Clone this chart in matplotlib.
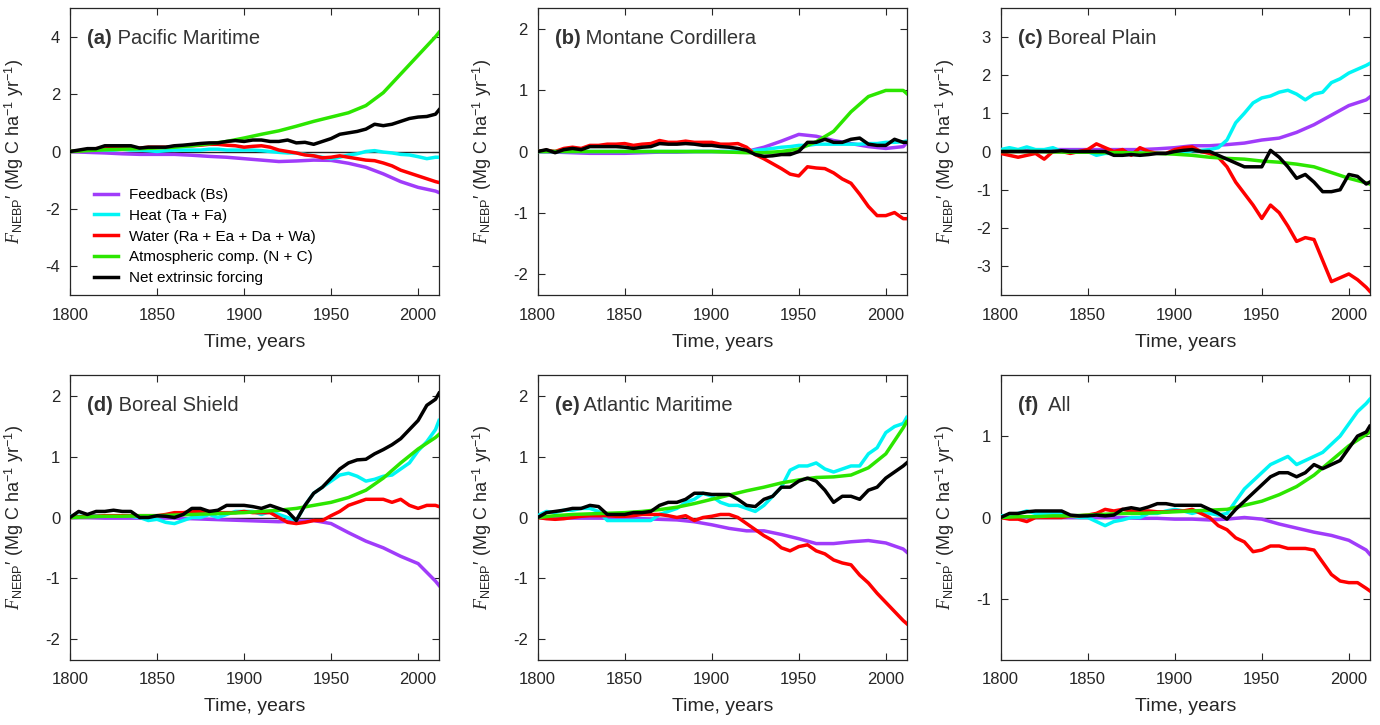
import numpy as np
import matplotlib
matplotlib.use("Agg")
import matplotlib.pyplot as plt

plt.rcParams["font.family"] = ["Liberation Sans", "DejaVu Sans"]
plt.rcParams["mathtext.fontset"] = "custom"
plt.rcParams["mathtext.rm"] = "Liberation Sans"
plt.rcParams["mathtext.it"] = "Liberation Serif:italic"
plt.rcParams["axes.unicode_minus"] = False

###################
# Data (read off) #
###################
# noisy series: every 5 years (+2012); smooth series: every 10 years (+2012)
years5 = list(range(1800, 2011, 5)) + [2012]
years10 = list(range(1800, 2011, 10)) + [2012]

labels = ["Feedback (Bs)", "Heat (Ta + Fa)", "Water (Ra + Ea + Da + Wa)",
          "Atmospheric comp. (N + C)", "Net extrinsic forcing"]
colors = ["#A03CFA", "#00F5F5", "#FF0000", "#2CE600", "#000000"]

titles = ["(a)", "(b)", "(c)", "(d)", "(e)", "(f)"]
names = [" Pacific Maritime", " Montane Cordillera", " Boreal Plain",
         " Boreal Shield", " Atlantic Maritime", "  All"]
ylims = [5.0, 2.35, 3.75, 2.35, 2.35, 1.75]
yticks = [[-4, -2, 0, 2, 4], [-2, -1, 0, 1, 2], [-3, -2, -1, 0, 1, 2, 3],
          [-2, -1, 0, 1, 2], [-2, -1, 0, 1, 2], [-1, 0, 1]]

# (a) Pacific Maritime
a_feedback = [0.0, -0.03, -0.05, -0.08, -0.1, -0.1, -0.1, -0.13, -0.17, -0.2, -0.25, -0.3,
              -0.35, -0.33, -0.3, -0.31, -0.41, -0.55, -0.78, -1.05, -1.25, -1.38, -1.43]
a_heat = [0.0, 0.02, 0.05, 0.05, 0.05, 0.05, 0.08, 0.05, 0.05, 0.03, 0.0, 0.03, 0.05, 0.05,
          0.05, 0.05, 0.08, 0.08, 0.05, 0.05, 0.05, 0.05, 0.03, 0.0, -0.03, -0.05, -0.05,
          -0.1, -0.15, -0.2, -0.25, -0.2, -0.12, -0.08, 0.0, 0.03, -0.02, -0.05, -0.1, -0.12,
          -0.18, -0.25, -0.2, -0.2]
a_water = [0.0, 0.02, 0.05, 0.1, 0.12, 0.12, 0.15, 0.12, 0.12, 0.15, 0.15, 0.15, 0.18, 0.2,
           0.2, 0.22, 0.25, 0.25, 0.22, 0.2, 0.15, 0.18, 0.2, 0.15, 0.05, 0.0, -0.05, -0.12,
           -0.15, -0.22, -0.2, -0.15, -0.2, -0.25, -0.3, -0.32, -0.4, -0.5, -0.65, -0.75,
           -0.85, -0.95, -1.05, -1.08]
a_atm = [0.0, 0.03, 0.06, 0.08, 0.1, 0.12, 0.15, 0.2, 0.27, 0.35, 0.47, 0.6, 0.72, 0.88,
         1.05, 1.2, 1.35, 1.6, 2.05, 2.7, 3.35, 4.0, 4.15]
a_net = [0.0, 0.05, 0.1, 0.1, 0.2, 0.2, 0.2, 0.2, 0.12, 0.15, 0.15, 0.15, 0.2, 0.22, 0.25,
         0.28, 0.3, 0.3, 0.35, 0.38, 0.35, 0.4, 0.4, 0.35, 0.35, 0.4, 0.3, 0.32, 0.25, 0.35,
         0.45, 0.6, 0.65, 0.7, 0.78, 0.95, 0.9, 0.95, 1.05, 1.15, 1.2, 1.22, 1.3, 1.45]

# (b) Montane Cordillera
b_feedback = [0.0, -0.01, -0.02, -0.03, -0.03, -0.03, -0.02, -0.01, -0.01, 0.0, 0.0, 0.0,
              0.0, 0.07, 0.17, 0.28, 0.25, 0.18, 0.13, 0.08, 0.05, 0.08, 0.14]
b_heat = [0.0] * 25 + [0.02, 0.03, 0.05, 0.07, 0.08, 0.1, 0.1, 0.12, 0.12, 0.12, 0.12,
                       0.12, 0.12, 0.13, 0.13, 0.15, 0.15, 0.16, 0.17]
b_water = [0.0, 0.02, 0.0, 0.05, 0.07, 0.05, 0.1, 0.1, 0.12, 0.12, 0.13, 0.1, 0.12, 0.13,
           0.18, 0.15, 0.15, 0.17, 0.15, 0.15, 0.15, 0.12, 0.12, 0.13, 0.07, -0.05, -0.12,
           -0.2, -0.28, -0.37, -0.4, -0.25, -0.27, -0.28, -0.35, -0.45, -0.52, -0.7, -0.9,
           -1.05, -1.05, -1.0, -1.1, -1.1]
b_atm = [0.0, 0.0, 0.0, 0.0, 0.0, 0.0, 0.0, 0.0, 0.0, 0.0, 0.0, -0.01, -0.02, -0.02, 0.0,
         0.04, 0.16, 0.33, 0.65, 0.9, 1.0, 1.0, 0.95]
b_net = [0.0, 0.03, -0.02, 0.03, 0.05, 0.03, 0.08, 0.08, 0.08, 0.08, 0.07, 0.05, 0.07, 0.08,
         0.13, 0.12, 0.12, 0.13, 0.12, 0.1, 0.1, 0.08, 0.07, 0.05, 0.02, -0.05, -0.08,
         -0.07, -0.05, -0.05, 0.0, 0.15, 0.15, 0.2, 0.15, 0.15, 0.2, 0.22, 0.12, 0.1, 0.1,
         0.2, 0.15, 0.15]

# (c) Boreal Plain
c_feedback = [0.0, 0.02, 0.03, 0.05, 0.05, 0.05, 0.05, 0.05, 0.05, 0.07, 0.1, 0.15, 0.15,
              0.18, 0.22, 0.3, 0.35, 0.5, 0.7, 0.95, 1.2, 1.35, 1.42]
c_heat = [0.05, 0.1, 0.05, 0.12, 0.05, 0.05, 0.1, 0.0, 0.0, 0.0, 0.0, -0.1, -0.05, -0.05,
          -0.05, -0.05, -0.05, -0.03, -0.05, -0.05, 0.0, -0.05, 0.02, 0.03, 0.05, 0.1, 0.3,
          0.75, 1.0, 1.27, 1.4, 1.45, 1.55, 1.6, 1.5, 1.35, 1.5, 1.55, 1.8, 1.9, 2.05, 2.15,
          2.25, 2.3]
c_water = [-0.05, -0.1, -0.15, -0.1, -0.05, -0.2, 0.0, 0.0, -0.05, 0.0, 0.05, 0.2, 0.1,
           0.0, 0.05, -0.1, 0.1, 0.0, -0.05, -0.05, 0.05, 0.1, 0.12, 0.0, -0.05, -0.15,
           -0.4, -0.8, -1.1, -1.4, -1.75, -1.4, -1.6, -1.95, -2.35, -2.25, -2.3, -2.85,
           -3.4, -3.3, -3.2, -3.35, -3.55, -3.65]
c_atm = [0.0, 0.0, 0.0, -0.01, -0.02, -0.02, -0.03, -0.03, -0.04, -0.05, -0.07, -0.1,
         -0.15, -0.18, -0.2, -0.25, -0.28, -0.33, -0.4, -0.55, -0.7, -0.82, -0.85]
c_net = [0.0, 0.0, 0.0, 0.0, 0.0, 0.0, 0.0, 0.02, 0.0, 0.0, 0.0, 0.0, 0.0, -0.1, -0.1,
         -0.08, -0.1, -0.08, -0.05, -0.05, 0.0, 0.03, 0.05, 0.0, 0.0, -0.1, -0.2, -0.3,
         -0.4, -0.4, -0.4, 0.03, -0.15, -0.4, -0.7, -0.6, -0.8, -1.05, -1.05, -1.0, -0.6,
         -0.65, -0.85, -0.8]

# (d) Boreal Shield
d_feedback = [0.0, 0.0, -0.01, -0.01, -0.01, -0.01, -0.01, -0.02, -0.03, -0.04, -0.05,
              -0.06, -0.07, -0.06, -0.05, -0.1, -0.25, -0.39, -0.5, -0.64, -0.76, -1.05,
              -1.12]
d_heat = [0.02, 0.02, 0.02, 0.03, 0.02, 0.03, 0.02, 0.02, 0.0, -0.05, -0.03, -0.08, -0.1,
          -0.05, 0.0, 0.0, 0.05, 0.0, 0.05, 0.1, 0.1, 0.1, 0.05, 0.1, 0.05, 0.0, -0.05, 0.2,
          0.4, 0.5, 0.6, 0.7, 0.73, 0.68, 0.6, 0.63, 0.68, 0.7, 0.8, 0.9, 1.1, 1.25, 1.45,
          1.6]
d_water = [0.0, 0.01, 0.02, 0.02, 0.03, 0.03, 0.03, 0.03, 0.03, 0.03, 0.03, 0.05, 0.08,
           0.08, 0.1, 0.1, 0.1, 0.08, 0.08, 0.08, 0.1, 0.08, 0.08, 0.08, 0.0, -0.08, -0.1,
           -0.08, -0.05, -0.05, 0.03, 0.1, 0.2, 0.25, 0.3, 0.3, 0.3, 0.25, 0.3, 0.2, 0.15,
           0.2, 0.2, 0.18]
d_atm = [0.0, 0.01, 0.02, 0.02, 0.03, 0.03, 0.04, 0.05, 0.06, 0.07, 0.08, 0.1, 0.12, 0.15,
         0.2, 0.25, 0.33, 0.45, 0.65, 0.9, 1.13, 1.32, 1.37]
d_net = [0.0, 0.1, 0.05, 0.1, 0.1, 0.12, 0.1, 0.1, 0.0, 0.0, 0.03, 0.02, 0.0, 0.05, 0.15,
         0.15, 0.1, 0.12, 0.2, 0.2, 0.2, 0.18, 0.15, 0.2, 0.15, 0.1, -0.05, 0.2, 0.4, 0.5,
         0.65, 0.8, 0.9, 0.95, 0.96, 1.05, 1.12, 1.2, 1.3, 1.45, 1.6, 1.85, 1.95, 2.05]

# (e) Atlantic Maritime
e_feedback = [0.0, 0.0, -0.01, -0.01, -0.01, -0.02, -0.02, -0.03, -0.04, -0.07, -0.12,
              -0.18, -0.22, -0.22, -0.28, -0.35, -0.43, -0.43, -0.4, -0.38, -0.42, -0.52,
              -0.57]
e_heat = [0.03, 0.1, 0.08, 0.12, 0.12, 0.15, 0.15, 0.1, -0.05, -0.05, -0.05, -0.05, -0.05,
          -0.05, 0.05, 0.1, 0.15, 0.25, 0.3, 0.4, 0.35, 0.25, 0.2, 0.2, 0.15, 0.1, 0.2,
          0.35, 0.5, 0.78, 0.85, 0.85, 0.9, 0.8, 0.75, 0.8, 0.85, 0.85, 1.05, 1.15, 1.4,
          1.5, 1.55, 1.65]
e_water = [0.0, -0.02, -0.03, -0.02, 0.0, 0.02, 0.03, 0.03, 0.03, 0.02, 0.02, 0.03, 0.05,
           0.05, 0.05, 0.03, 0.0, 0.03, -0.05, 0.0, 0.02, 0.05, 0.05, 0.0, -0.1, -0.2, -0.3,
           -0.38, -0.5, -0.55, -0.48, -0.45, -0.55, -0.6, -0.7, -0.75, -0.78, -0.95, -1.08,
           -1.25, -1.4, -1.55, -1.7, -1.75]
e_atm = [0.0, 0.03, 0.05, 0.06, 0.07, 0.08, 0.1, 0.13, 0.17, 0.23, 0.3, 0.37, 0.44, 0.5,
         0.57, 0.62, 0.66, 0.67, 0.7, 0.82, 1.05, 1.48, 1.58]
e_net = [0.0, 0.08, 0.1, 0.12, 0.15, 0.15, 0.2, 0.18, 0.05, 0.05, 0.05, 0.08, 0.08, 0.1,
         0.2, 0.25, 0.25, 0.3, 0.4, 0.4, 0.38, 0.38, 0.38, 0.3, 0.2, 0.18, 0.3, 0.35, 0.5,
         0.5, 0.6, 0.65, 0.6, 0.45, 0.25, 0.35, 0.35, 0.3, 0.45, 0.5, 0.65, 0.75, 0.85, 0.9]

# (f) All
f_feedback = [0.0, 0.0, 0.0, 0.0, 0.0, 0.0, 0.0, 0.0, -0.01, -0.01, -0.02, -0.02, -0.03,
              -0.02, 0.0, -0.02, -0.08, -0.13, -0.18, -0.22, -0.28, -0.4, -0.45]
f_heat = [0.02, 0.03, 0.05, 0.08, 0.05, 0.05, 0.05, 0.05, 0.02, 0.0, 0.0, -0.05, -0.1,
          -0.05, -0.03, 0.0, 0.0, 0.05, 0.05, 0.08, 0.1, 0.08, 0.05, 0.08, 0.05, 0.03, 0.05,
          0.2, 0.35, 0.45, 0.55, 0.65, 0.7, 0.75, 0.65, 0.7, 0.75, 0.8, 0.9, 1.0, 1.15, 1.3,
          1.4, 1.45]
f_water = [0.0, -0.02, -0.02, -0.05, 0.0, 0.0, 0.0, 0.0, 0.02, 0.02, 0.03, 0.05, 0.1, 0.08,
           0.1, 0.08, 0.08, 0.08, 0.07, 0.07, 0.08, 0.08, 0.1, 0.05, 0.0, -0.1, -0.15, -0.25,
           -0.3, -0.42, -0.4, -0.35, -0.35, -0.38, -0.38, -0.38, -0.4, -0.55, -0.7, -0.78,
           -0.8, -0.8, -0.87, -0.9]
f_atm = [0.0, 0.01, 0.01, 0.02, 0.02, 0.03, 0.04, 0.05, 0.05, 0.06, 0.07, 0.08, 0.09, 0.1,
         0.15, 0.2, 0.28, 0.38, 0.52, 0.7, 0.88, 1.02, 1.05]
f_net = [0.0, 0.05, 0.05, 0.07, 0.08, 0.08, 0.08, 0.08, 0.03, 0.02, 0.02, 0.03, 0.02, 0.03,
         0.1, 0.12, 0.1, 0.13, 0.17, 0.17, 0.15, 0.15, 0.15, 0.15, 0.1, 0.05, -0.02, 0.1,
         0.2, 0.3, 0.4, 0.5, 0.55, 0.55, 0.5, 0.55, 0.65, 0.6, 0.65, 0.7, 0.85, 1.0, 1.05,
         1.12]

panels = [
    (a_feedback, a_heat, a_water, a_atm, a_net),
    (b_feedback, b_heat, b_water, b_atm, b_net),
    (c_feedback, c_heat, c_water, c_atm, c_net),
    (d_feedback, d_heat, d_water, d_atm, d_net),
    (e_feedback, e_heat, e_water, e_atm, e_net),
    (f_feedback, f_heat, f_water, f_atm, f_net),
]

###################
#     Figure      #
###################
W, H = 1380, 725
fig = plt.figure(figsize=(W / 100, H / 100), dpi=100)

lefts = [70, 537.7, 1000.7]
ax_w = 369
rows = [(8, 295), (375, 660)]  # (top, bottom) in pixels
text_col = "#262626"
ylab = r"$\mathit{F}_{\mathrm{NEBP}}$" + "\u2032 (Mg C ha$^{-1}$ yr$^{-1}$)"

for i, series in enumerate(panels):
    r, c = divmod(i, 3)
    top, bot = rows[r]
    ax = fig.add_axes([lefts[c] / W, (H - bot) / H, ax_w / W, (bot - top) / H])

    ax.axhline(0, color="#222222", lw=1.0, zorder=1)
    for k, vals in enumerate(series):
        x = years10 if k in (0, 3) else years5
        ax.plot(x, vals, color=colors[k], lw=2.5, label=labels[k], zorder=2 + k)

    ax.set_xlim(1800, 2012)
    ax.set_ylim(-ylims[i], ylims[i])
    ax.set_xticks([1800, 1850, 1900, 1950, 2000])
    ax.set_yticks(yticks[i])
    ax.tick_params(direction="in", length=5, width=0.8, top=True, right=True,
                   labelsize=12, colors=text_col, labelcolor=text_col)
    ax.tick_params(axis="x", pad=9)
    ax.tick_params(axis="y", pad=7)
    for sp in ax.spines.values():
        sp.set_color(text_col)
        sp.set_linewidth(0.9)

    ax.set_xlabel("Time, years", fontsize=14, color=text_col)
    ax.xaxis.set_label_coords(0.5, -0.135)
    ax.set_ylabel(ylab, fontsize=13, color=text_col)
    ax.yaxis.set_label_coords(-0.118, 0.5)

    # panel letter in bold, region name in regular weight right after it
    t = ax.text(0.046, 0.875, titles[i], transform=ax.transAxes, fontsize=14.5,
                fontweight="bold", color="#333333", va="baseline", ha="left")
    fig.canvas.draw()
    bb = t.get_window_extent().transformed(ax.transAxes.inverted())
    ax.text(bb.x1, 0.875, names[i], transform=ax.transAxes, fontsize=14.5,
            color="#333333", va="baseline", ha="left")

    if i == 0:
        ax.legend(loc="lower left", bbox_to_anchor=(0.065, 0.035), frameon=False,
                  fontsize=11, handlelength=1.57, handletextpad=0.72,
                  labelspacing=0.44, borderpad=0, borderaxespad=0)

fig.savefig("out.png", dpi=100)
